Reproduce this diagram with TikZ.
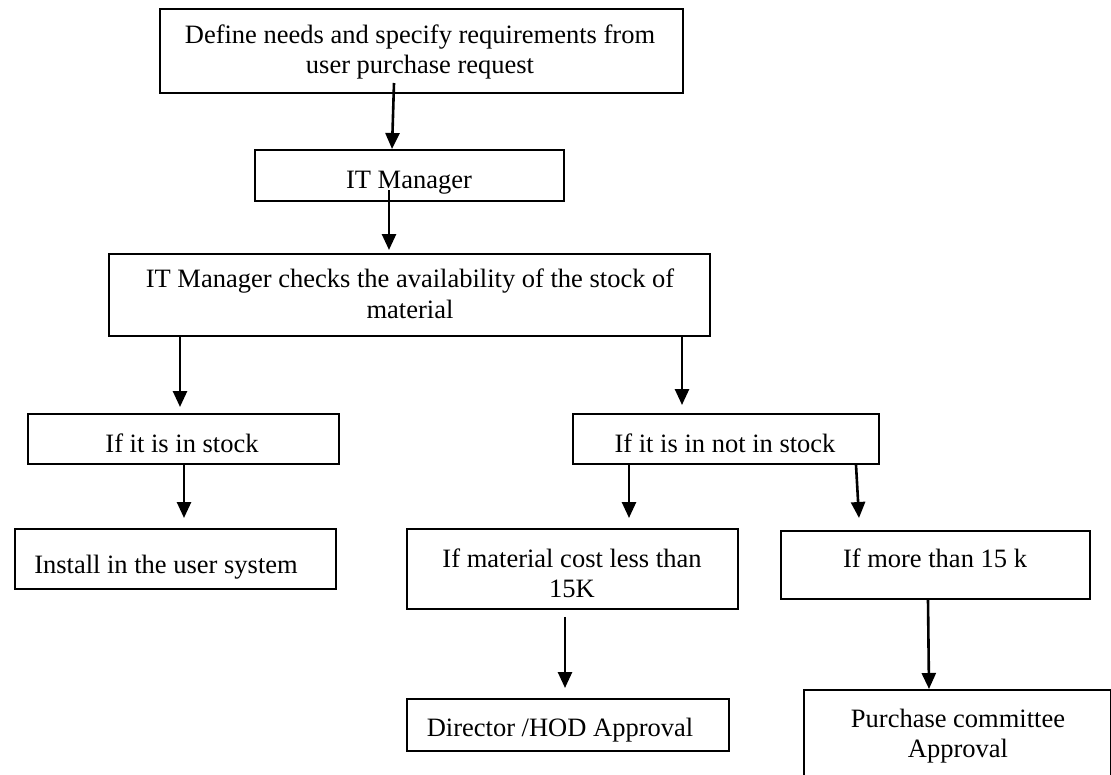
\documentclass[tikz,border=0pt]{standalone}
\usepackage{fontspec}
\setmainfont{Liberation Serif}
\usetikzlibrary{arrows.meta,calc}
\begin{document}
\begin{tikzpicture}[x=1pt,y=-1pt,
  box/.style={draw, line width=1.8pt, inner sep=0pt, anchor=north west},
  txt/.style={inner sep=0pt, align=center, font=\fontsize{26.5}{30.5}\selectfont},
  arr/.style={line width=2.6pt, -{Triangle[width=14pt,length=16pt]}}]
\useasboundingbox (0,0) rectangle (1111,774);

% boxes
\node[box, minimum width=523pt, minimum height=84pt] (b1) at (159,8) {};
\node[box, minimum width=309pt, minimum height=51pt] (b2) at (254,149) {};
\node[box, minimum width=601pt, minimum height=82pt] (b3) at (108,253) {};
\node[box, minimum width=311pt, minimum height=50pt] (b4) at (27,413) {};
\node[box, minimum width=306pt, minimum height=50pt] (b5) at (572,413) {};
\node[box, minimum width=321pt, minimum height=60pt] (b6) at (14,528) {};
\node[box, minimum width=331pt, minimum height=80pt] (b7) at (406,528) {};
\node[box, minimum width=309pt, minimum height=68pt] (b8) at (780,530) {};
\node[box, minimum width=322pt, minimum height=52pt] (b9) at (406,698) {};
\node[box, minimum width=307pt, minimum height=120pt] (b10) at (803,689) {};

% labels
\node[txt] (t1) at (420,52) {Define needs and specify requirements from\\user purchase request};
\node[txt] (t2) at (409,183) {IT Manager};
\node[txt] (t3) at (410,294) {IT Manager checks the availability of the stock of\\material};
\node[txt] (t4) at (182,443) {If it is in stock};
\node[txt] (t5) at (725,443) {If it is in not in stock};
\node[txt] (t6) at (166,567) {Install in the user system};
\node[txt] (t7) at (572,573.5) {If material cost less than\\15K};
\node[txt] (t8) at (935,558) {If more than 15 k};
\node[txt] (t9) at (560,730) {Director /HOD Approval};
\node[txt] (t10) at (958,736) {Purchase committee\\Approval};

% connectors
\draw[arr] ($(b1.north west)+(235,75)$) -- ($(b2.north west)+(138,0)$);
\draw[arr] ($(b2.north west)+(135,41)$) -- ($(b3.north west)+(281,-3)$);
\draw[arr] ($(b3.south west)+(72,0)$) -- ($(b4.north west)+(153,-6)$);
\draw[arr] ($(b3.south west)+(574,0)$) -- ($(b5.north west)+(110,-8)$);
\draw[arr] ($(b4.south west)+(157,0)$) -- ($(b6.north west)+(170,-10)$);
\draw[arr] ($(b5.south west)+(57,0)$) -- ($(b7.north west)+(223,-10)$);
\draw[arr] ($(b5.south west)+(284,0)$) -- ($(b8.north west)+(79,-12)$);
\draw[arr] ($(b7.south west)+(159,7)$) -- ($(b9.north west)+(159,-10)$);
\draw[arr] ($(b8.south west)+(148,0)$) -- ($(b10.north west)+(126,0)$);
\end{tikzpicture}
\end{document}
